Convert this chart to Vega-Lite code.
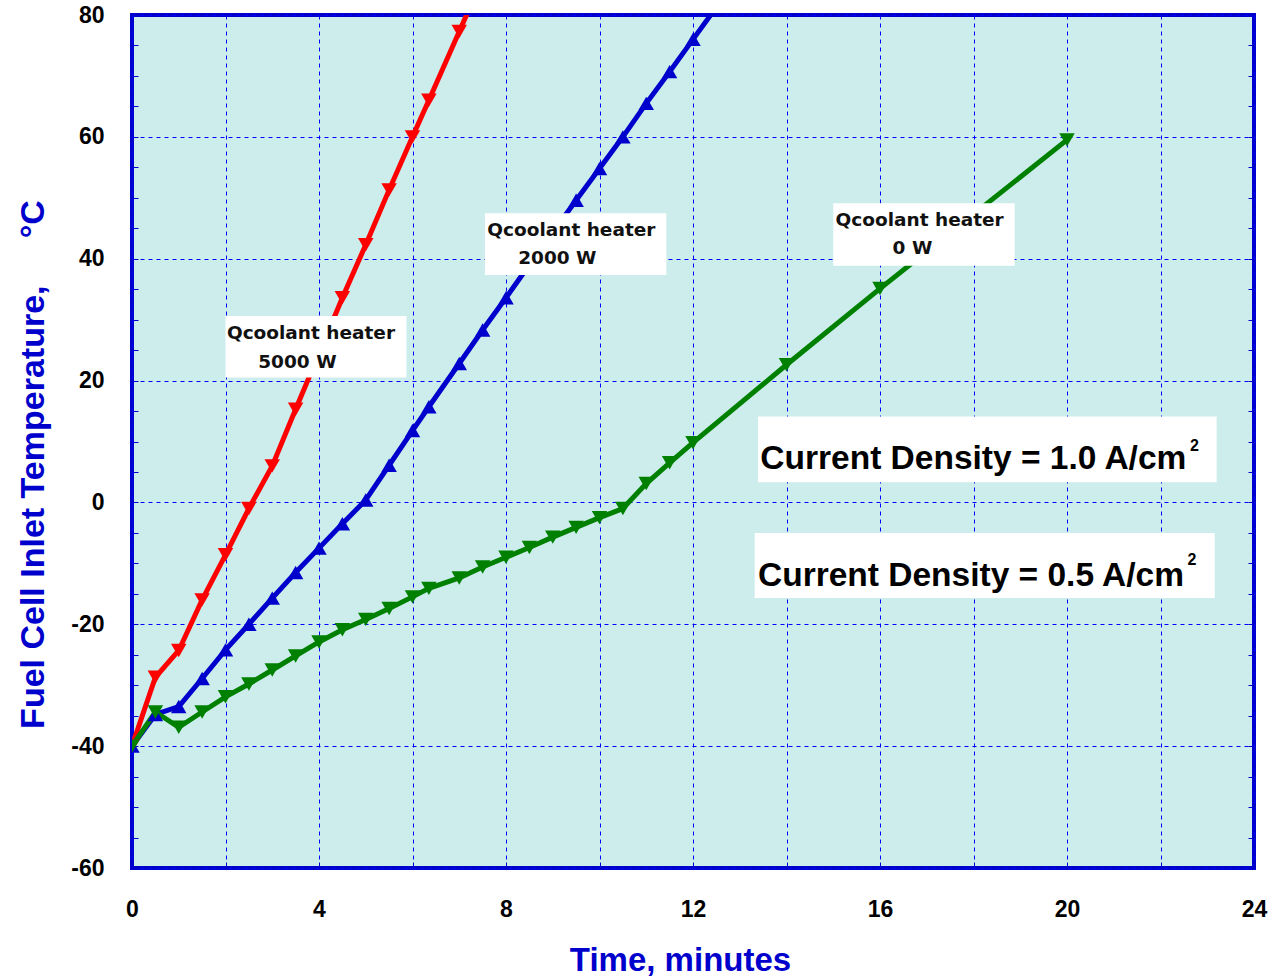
{
  "$schema": "https://vega.github.io/schema/vega-lite/v6.json",
  "width": 1122,
  "height": 853,
  "autosize": {"type": "none"},
  "padding": {"left": 132, "top": 15, "right": 18, "bottom": 109},
  "background": "white",
  "config": {
    "view": {"stroke": "#0000CC", "strokeWidth": 4, "fill": "#CCEDEC"},
    "font": "Liberation Sans"
  },
  "datasets": {
    "series": [
      {"series": "5000 W", "t": 0, "v": -40},
      {"series": "5000 W", "t": 0.5, "v": -28.7},
      {"series": "5000 W", "t": 1, "v": -24.3},
      {"series": "5000 W", "t": 1.5, "v": -16.0},
      {"series": "5000 W", "t": 2, "v": -8.6},
      {"series": "5000 W", "t": 2.5, "v": -1.0},
      {"series": "5000 W", "t": 3, "v": 6.0},
      {"series": "5000 W", "t": 3.5, "v": 15.3},
      {"series": "5000 W", "t": 4, "v": 24.4},
      {"series": "5000 W", "t": 4.5, "v": 33.6},
      {"series": "5000 W", "t": 5, "v": 42.3},
      {"series": "5000 W", "t": 5.5, "v": 51.3},
      {"series": "5000 W", "t": 6, "v": 60.0},
      {"series": "5000 W", "t": 6.35, "v": 66.0},
      {"series": "5000 W", "t": 7, "v": 77.3},
      {"series": "5000 W", "t": 7.5, "v": 86.0},
      {"series": "2000 W", "t": 0, "v": -40},
      {"series": "2000 W", "t": 0.5, "v": -34.8},
      {"series": "2000 W", "t": 1, "v": -33.5},
      {"series": "2000 W", "t": 1.5, "v": -28.9},
      {"series": "2000 W", "t": 2, "v": -24.2},
      {"series": "2000 W", "t": 2.5, "v": -20.0},
      {"series": "2000 W", "t": 3, "v": -15.7},
      {"series": "2000 W", "t": 3.5, "v": -11.5},
      {"series": "2000 W", "t": 4, "v": -7.5},
      {"series": "2000 W", "t": 4.5, "v": -3.5},
      {"series": "2000 W", "t": 5, "v": 0.4},
      {"series": "2000 W", "t": 5.5, "v": 6.1},
      {"series": "2000 W", "t": 6, "v": 11.8},
      {"series": "2000 W", "t": 6.35, "v": 15.7},
      {"series": "2000 W", "t": 7, "v": 22.8},
      {"series": "2000 W", "t": 7.5, "v": 28.3},
      {"series": "2000 W", "t": 8, "v": 33.6},
      {"series": "2000 W", "t": 8.5, "v": 39.0},
      {"series": "2000 W", "t": 9, "v": 44.3},
      {"series": "2000 W", "t": 9.5, "v": 49.6},
      {"series": "2000 W", "t": 10, "v": 54.8},
      {"series": "2000 W", "t": 10.5, "v": 60.0},
      {"series": "2000 W", "t": 11, "v": 65.5},
      {"series": "2000 W", "t": 11.5, "v": 70.7},
      {"series": "2000 W", "t": 12, "v": 76.0},
      {"series": "2000 W", "t": 12.5, "v": 81.3},
      {"series": "0 W", "t": 0, "v": -40},
      {"series": "0 W", "t": 0.5, "v": -34.4},
      {"series": "0 W", "t": 1, "v": -36.9},
      {"series": "0 W", "t": 1.5, "v": -34.4},
      {"series": "0 W", "t": 2, "v": -31.9},
      {"series": "0 W", "t": 2.5, "v": -29.8},
      {"series": "0 W", "t": 3, "v": -27.5},
      {"series": "0 W", "t": 3.5, "v": -25.2},
      {"series": "0 W", "t": 4, "v": -22.9},
      {"series": "0 W", "t": 4.5, "v": -20.9},
      {"series": "0 W", "t": 5, "v": -19.2},
      {"series": "0 W", "t": 5.5, "v": -17.4},
      {"series": "0 W", "t": 6, "v": -15.5},
      {"series": "0 W", "t": 6.35, "v": -14.1},
      {"series": "0 W", "t": 7, "v": -12.4},
      {"series": "0 W", "t": 7.5, "v": -10.6},
      {"series": "0 W", "t": 8, "v": -9.0},
      {"series": "0 W", "t": 8.5, "v": -7.4},
      {"series": "0 W", "t": 9, "v": -5.7},
      {"series": "0 W", "t": 9.5, "v": -4.1},
      {"series": "0 W", "t": 10, "v": -2.5},
      {"series": "0 W", "t": 10.5, "v": -1.0},
      {"series": "0 W", "t": 11, "v": 3.1},
      {"series": "0 W", "t": 11.5, "v": 6.5},
      {"series": "0 W", "t": 12, "v": 9.8},
      {"series": "0 W", "t": 14, "v": 22.6},
      {"series": "0 W", "t": 16, "v": 35.1},
      {"series": "0 W", "t": 20, "v": 59.5}
    ],
    "zero": [{"v": 0}],
    "boxes": [
      {"t": 2.0, "t2": 5.87, "v": 30.6, "v2": 20.5},
      {"t": 7.55, "t2": 11.43, "v": 47.45, "v2": 37.33},
      {"t": 15.0, "t2": 18.88, "v": 49.1, "v2": 38.85},
      {"t": 13.39, "t2": 23.2, "v": 14.1, "v2": 3.3},
      {"t": 13.32, "t2": 23.16, "v": -5.0, "v2": -15.7}
    ],
    "heater": [
      {"text": "Qcoolant heater", "t": 2.03, "v": 27.76},
      {"text": "5000 W", "t": 2.7, "v": 23.1},
      {"text": "Qcoolant heater", "t": 7.6, "v": 44.7},
      {"text": "2000 W", "t": 8.26, "v": 40.07},
      {"text": "Qcoolant heater", "t": 15.05, "v": 46.35},
      {"text": "0 W", "t": 16.27, "v": 41.7}
    ],
    "density": [
      {"text": "Current Density = 1.0 A/cm", "t": 13.44, "v": 7.05},
      {"text": "Current Density = 0.5 A/cm", "t": 13.39, "v": -12.04}
    ],
    "sup": [
      {"text": "2", "t": 22.63, "v": 9.3},
      {"text": "2", "t": 22.58, "v": -9.4}
    ]
  },
  "encoding": {
    "x": {
      "field": "t",
      "type": "quantitative",
      "scale": {"domain": [0, 24], "nice": false, "zero": false},
      "axis": {
        "values": [0, 2, 4, 6, 8, 10, 12, 14, 16, 18, 20, 22, 24],
        "labelExpr": "datum.value % 4 === 0 ? '' + datum.value : ''",
        "grid": true,
        "gridColor": "#0000FF",
        "gridDash": [4, 4],
        "gridWidth": 1,
        "domain": false,
        "ticks": true,
        "tickColor": "#0000CC",
        "tickSize": -6,
        "tickWidth": 1,
        "labelFont": "Liberation Sans",
        "labelFontSize": 23,
        "labelFontWeight": "bold",
        "labelColor": "black",
        "labelPadding": 36,
        "labelFlush": false,
        "title": "Time, minutes",
        "titleFont": "Liberation Sans",
        "titleFontSize": 33,
        "titleFontWeight": "bold",
        "titleColor": "#0000CC",
        "titleX": 548,
        "titleY": 92,
        "titleBaseline": "middle",
        "titleAlign": "center"
      }
    }
  },
  "layer": [
    {
      "encoding": {
        "y": {
          "field": "v",
          "type": "quantitative",
          "scale": {"domain": [-60, 80], "nice": false, "zero": false},
          "axis": {
            "orient": "left",
            "values": [-60, -55, -50, -45, -40, -35, -30, -25, -20, -15, -10, -5, 0, 5, 10, 15, 20, 25, 30, 35, 40, 45, 50, 55, 60, 65, 70, 75, 80],
            "labelExpr": "datum.value % 20 === 0 ? '' + datum.value : ''",
            "grid": true,
            "gridColor": "#0000FF",
            "gridDash": [4, 4],
            "gridWidth": 1,
            "gridOpacity": {"condition": {"test": "datum.value % 20 === 0", "value": 1}, "value": 0},
            "domain": false,
            "ticks": true,
            "tickColor": "#0000CC",
            "tickSize": -6,
            "tickWidth": 1,
            "labelFont": "Liberation Sans",
            "labelFontSize": 23,
            "labelFontWeight": "bold",
            "labelColor": "black",
            "labelPadding": 34,
            "labelFlush": false,
            "title": "Fuel Cell Inlet Temperature,\u00a0\u00a0\u00a0\u00a0\u00a0°C",
            "titleFont": "Liberation Sans",
            "titleFontSize": 34,
            "titleFontWeight": "bold",
            "titleColor": "#0000CC",
            "titleAngle": -90,
            "titleX": -99,
            "titleY": 449,
            "titleBaseline": "middle",
            "titleAlign": "center"
          }
        }
      },
      "layer": [
        {
          "data": {"name": "zero"},
          "mark": {"type": "rule", "color": "black", "strokeWidth": 7},
          "encoding": {}
        },
        {
          "data": {"name": "series"},
          "mark": {"type": "line", "strokeWidth": 5, "clip": true},
          "encoding": {
            "color": {
              "field": "series",
              "type": "nominal",
              "scale": {"domain": ["5000 W", "2000 W", "0 W"], "range": ["#FF0000", "#0000CC", "#008000"]},
              "legend": null
            },
            "detail": {"field": "series"}
          }
        },
        {
          "data": {"name": "series"},
          "mark": {"type": "point", "filled": true, "opacity": 1, "size": 240, "clip": true},
          "encoding": {
            "color": {
              "field": "series",
              "type": "nominal",
              "scale": {"domain": ["5000 W", "2000 W", "0 W"], "range": ["#FF0000", "#0000CC", "#008000"]},
              "legend": null
            },
            "shape": {
              "field": "series",
              "type": "nominal",
              "scale": {"domain": ["5000 W", "2000 W", "0 W"], "range": ["triangle-down", "triangle-up", "triangle-down"]},
              "legend": null
            }
          }
        },
        {
          "data": {"name": "boxes"},
          "mark": {"type": "rect", "color": "white", "opacity": 1},
          "encoding": {
            "x2": {"field": "t2"},
            "y2": {"field": "v2"}
          }
        },
        {
          "data": {"name": "heater"},
          "mark": {"type": "text", "font": "DejaVu Sans", "fontWeight": "bold", "fontSize": 18.5, "align": "left", "baseline": "middle", "color": "#111111"},
          "encoding": {"text": {"field": "text"}}
        },
        {
          "data": {"name": "density"},
          "mark": {"type": "text", "font": "Liberation Sans", "fontWeight": "bold", "fontSize": 33.5, "align": "left", "baseline": "middle", "color": "black"},
          "encoding": {"text": {"field": "text"}}
        },
        {
          "data": {"name": "sup"},
          "mark": {"type": "text", "font": "Liberation Sans", "fontWeight": "bold", "fontSize": 16, "align": "left", "baseline": "middle", "color": "black"},
          "encoding": {"text": {"field": "text"}}
        }
      ]
    },
    {
      "data": {"name": "zero"},
      "mark": {"type": "rule", "color": "black", "strokeWidth": 7},
      "encoding": {
        "y": {
          "field": "v",
          "type": "quantitative",
          "scale": {"domain": [-60, 80], "nice": false, "zero": false},
          "axis": {
            "orient": "right",
            "values": [-60, -55, -50, -45, -40, -35, -30, -25, -20, -15, -10, -5, 0, 5, 10, 15, 20, 25, 30, 35, 40, 45, 50, 55, 60, 65, 70, 75, 80],
            "labels": false,
            "grid": false,
            "domain": false,
            "ticks": true,
            "tickColor": "#0000CC",
            "tickSize": -6,
            "tickWidth": 1,
            "title": null
          }
        }
      }
    }
  ],
  "resolve": {"axis": {"y": "independent"}}
}
